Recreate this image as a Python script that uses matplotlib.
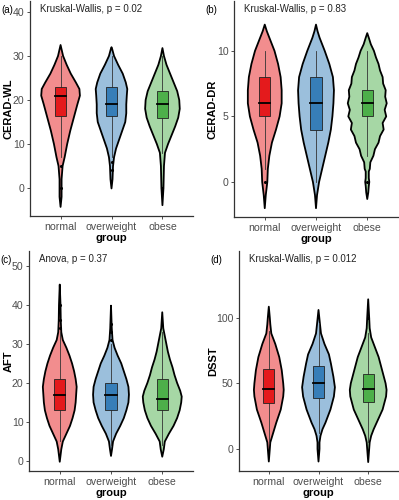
import numpy as np
import matplotlib
matplotlib.use("Agg")
import matplotlib.pyplot as plt

plt.rcParams["font.family"] = ["Liberation Sans", "DejaVu Sans"]

GROUPS = ["normal", "overweight", "obese"]
FILLS = ["#E41A1C", "#377EB8", "#4DAF4A"]

# violin outlines: (value, half-width in category units)
A_NORMAL = [(-4.3, 0), (-2, 0.02), (2, 0.02), (5, 0.04), (7, 0.08), (10, 0.13), (13, 0.19), (16, 0.26),
            (19, 0.33), (21, 0.38), (22.5, 0.37), (24, 0.3), (26, 0.2), (28, 0.12), (30, 0.05), (31.5, 0.02), (32.5, 0)]
A_OVER = [(-0.1, 0), (2, 0.02), (5, 0.03), (7, 0.05), (9, 0.09), (11, 0.15), (13, 0.21), (15, 0.27), (17, 0.29),
          (19, 0.29), (21, 0.3), (22.5, 0.31), (24, 0.28), (26, 0.22), (28, 0.13), (30, 0.05), (31.5, 0.015), (32, 0)]
A_OBESE = [(-3.9, 0), (0, 0.02), (5, 0.03), (8, 0.05), (10, 0.11), (12, 0.18), (14, 0.25), (16, 0.31), (18, 0.34),
           (20, 0.33), (22, 0.29), (24, 0.22), (26, 0.15), (28, 0.08), (30, 0.03), (31.8, 0)]

B_NORMAL = [(-2, 0), (-1, 0.02), (0, 0.05), (1, 0.06), (2, 0.09), (3, 0.14), (4, 0.22), (5, 0.29), (6, 0.33),
            (7, 0.33), (8, 0.31), (9, 0.26), (10, 0.19), (11, 0.09), (11.5, 0.04), (12, 0)]
B_OVER = [(-2, 0), (-1, 0.02), (0, 0.06), (1, 0.12), (2, 0.18), (3, 0.24), (4, 0.29), (5, 0.32), (6, 0.34),
          (7, 0.35), (8, 0.33), (9, 0.26), (10, 0.17), (11, 0.07), (11.5, 0.03), (12, 0)]
B_OBESE = [(-1.3, 0), (-0.8, 0.02), (-0.3, 0.03), (0, 0.04), (0.3, 0.03), (0.8, 0.03), (1, 0.05), (1.5, 0.06),
           (2, 0.12), (2.5, 0.15), (3, 0.22), (3.5, 0.25), (4, 0.32), (4.5, 0.3), (5, 0.37), (5.5, 0.34), (6, 0.38),
           (6.5, 0.35), (7, 0.36), (7.5, 0.31), (8, 0.3), (8.5, 0.25), (9, 0.22), (9.5, 0.17), (10, 0.13),
           (10.5, 0.07), (11, 0.03), (11.35, 0)]

C_NORMAL = [(-0.2, 0), (3, 0.03), (5, 0.06), (7, 0.13), (9, 0.2), (11, 0.25), (13, 0.29), (15, 0.31), (17, 0.32),
            (19, 0.33), (21, 0.31), (23, 0.28), (25, 0.24), (27, 0.19), (29, 0.13), (31, 0.06), (33, 0.03),
            (36, 0.02), (40, 0.015), (45.2, 0)]
C_OVER = [(1.3, 0), (3, 0.02), (5, 0.04), (7, 0.1), (9, 0.18), (11, 0.25), (13, 0.3), (15, 0.34), (17, 0.35),
          (19, 0.34), (21, 0.3), (23, 0.25), (25, 0.2), (27, 0.13), (29, 0.07), (31, 0.03), (34, 0.015), (39.8, 0)]
C_OBESE = [(1.1, 0), (3, 0.03), (5, 0.05), (7, 0.13), (9, 0.22), (11, 0.29), (13, 0.34), (15, 0.37), (16.5, 0.38),
           (18, 0.35), (20, 0.29), (22, 0.24), (24, 0.2), (26, 0.15), (28, 0.11), (30, 0.08), (32, 0.05),
           (34, 0.02), (38.1, 0)]

D_NORMAL = [(-9.6, 0), (0, 0.02), (5, 0.03), (10, 0.07), (20, 0.15), (30, 0.24), (40, 0.29), (45, 0.3),
            (50, 0.29), (60, 0.26), (70, 0.21), (80, 0.13), (88, 0.05), (95, 0.03), (100, 0.02), (108.4, 0)]
D_OVER = [(-9.6, 0), (0, 0.02), (5, 0.02), (10, 0.04), (15, 0.08), (20, 0.14), (25, 0.19), (30, 0.24), (40, 0.31),
          (47, 0.33), (55, 0.3), (65, 0.25), (72, 0.21), (80, 0.12), (88, 0.05), (95, 0.03), (105.9, 0)]
D_OBESE = [(-10, 0), (0, 0.02), (5, 0.03), (10, 0.06), (15, 0.11), (20, 0.17), (30, 0.29), (40, 0.36), (45, 0.37),
           (50, 0.35), (60, 0.28), (70, 0.21), (78, 0.13), (85, 0.06), (92, 0.03), (100, 0.02), (114, 0)]

# box stats per group: (whisker low, q1, median, q3, whisker high)
A_BOX = [(7, 16.3, 21, 23, 30), (7, 16.3, 19, 23, 30), (8, 16, 19, 22, 30)]
B_BOX = [(1, 5, 6, 8, 10), (0, 4, 6, 8, 10), (2, 5, 6, 7, 10)]
C_BOX = [(5, 13, 17, 21, 33), (4, 13, 17, 20, 30), (4, 13, 16, 21, 33)]
D_BOX = [(5, 35, 46, 61, 90), (12, 39, 50, 63, 96), (5, 36, 46, 57, 88)]

A_OUT = [[0, 5], [4, 6], [0]]
B_OUT = [[0], [], [0]]
C_OUT = [[34, 36, 40], [31, 33, 35], []]
D_OUT = [[], [], [100]]

PANELS = [
    dict(tag="(a)", ylabel="CERAD-WL", test="Kruskal-Wallis, p = 0.02", violins=[A_NORMAL, A_OVER, A_OBESE],
         boxes=A_BOX, outliers=A_OUT, ylim=(-6.36, 42.5), yticks=[0, 10, 20, 30, 40],
         px=(30, 1, 193, 216), ylab_x=9),
    dict(tag="(b)", ylabel="CERAD-DR", test="Kruskal-Wallis, p = 0.83", violins=[B_NORMAL, B_OVER, B_OBESE],
         boxes=B_BOX, outliers=B_OUT, ylim=(-2.67, 13.8), yticks=[0, 5, 10],
         px=(234, 1, 398, 217), ylab_x=212),
    dict(tag="(c)", ylabel="AFT", test="Anova, p = 0.37", violins=[C_NORMAL, C_OVER, C_OBESE],
         boxes=C_BOX, outliers=C_OUT, ylim=(-2.56, 53.8), yticks=[0, 10, 20, 30, 40, 50],
         px=(29, 251, 193, 471), ylab_x=9),
    dict(tag="(d)", ylabel="DSST", test="Kruskal-Wallis, p = 0.012", violins=[D_NORMAL, D_OVER, D_OBESE],
         boxes=D_BOX, outliers=D_OUT, ylim=(-16.8, 150.8), yticks=[0, 50, 100],
         px=(239, 251, 398, 471), ylab_x=213),
]

W, H = 399, 500
fig = plt.figure(figsize=(W / 100, H / 100), dpi=100)


def lighten(hexcol, a=0.5):
    c = np.array(matplotlib.colors.to_rgb(hexcol))
    return tuple(c * a + (1 - a))


for p in PANELS:
    x0, y0, x1, y1 = p["px"]
    ax = fig.add_axes([x0 / W, 1 - y1 / H, (x1 - x0) / W, (y1 - y0) / H])
    for i, (prof, box, outs, col) in enumerate(zip(p["violins"], p["boxes"], p["outliers"], FILLS)):
        xc = i + 1
        ys = np.array([v for v, _ in prof])
        ws = np.array([w for _, w in prof])
        xs = np.concatenate([xc + ws, (xc - ws)[::-1]])
        yy = np.concatenate([ys, ys[::-1]])
        ax.fill(xs, yy, facecolor=lighten(col), edgecolor="black", lw=1.3, joinstyle="round", zorder=2)
        lo, q1, med, q3, hi = box
        ax.plot([xc, xc], [lo, q1], color="#333333", lw=0.6, zorder=3)
        ax.plot([xc, xc], [q3, hi], color="#333333", lw=0.6, zorder=3)
        bw = 0.11
        ax.add_patch(plt.Rectangle((xc - bw, q1), 2 * bw, q3 - q1, facecolor=col, edgecolor="#222222",
                                   lw=0.6, zorder=4))
        ax.plot([xc - bw, xc + bw], [med, med], color="black", lw=1.3, zorder=5)
        if outs:
            ax.scatter([xc] * len(outs), outs, s=5, color="black", zorder=5, linewidths=0)

    ax.set_xlim(0.4, 3.6)
    ax.set_ylim(*p["ylim"])
    ax.set_xticks([1, 2, 3])
    ax.set_xticklabels(GROUPS)
    ax.set_yticks(p["yticks"])
    ax.tick_params(labelsize=7.6, labelcolor="#4D4D4D", color="#333333", length=2.5, width=0.6, pad=1.5)
    for s in ["top", "right"]:
        ax.spines[s].set_visible(False)
    for s in ["left", "bottom"]:
        ax.spines[s].set_color("#333333")
        ax.spines[s].set_linewidth(0.9)
    ax.set_xlabel("group", fontsize=8, fontweight="bold", labelpad=1)
    fig.text(p["ylab_x"] / W, 1 - (y0 + y1) / 2 / H, p["ylabel"], rotation=90, fontsize=8,
             fontweight="bold", ha="center", va="center")
    ax.text(0.06, 0.985, p["test"], transform=ax.transAxes, fontsize=7, ha="left", va="top", color="#222222")
    fig.text((x0 - 29) / W + 0.002, 1 - (y0 + 9) / H, p["tag"], fontsize=7, ha="left", va="center")

fig.savefig("out.png", dpi=100)
